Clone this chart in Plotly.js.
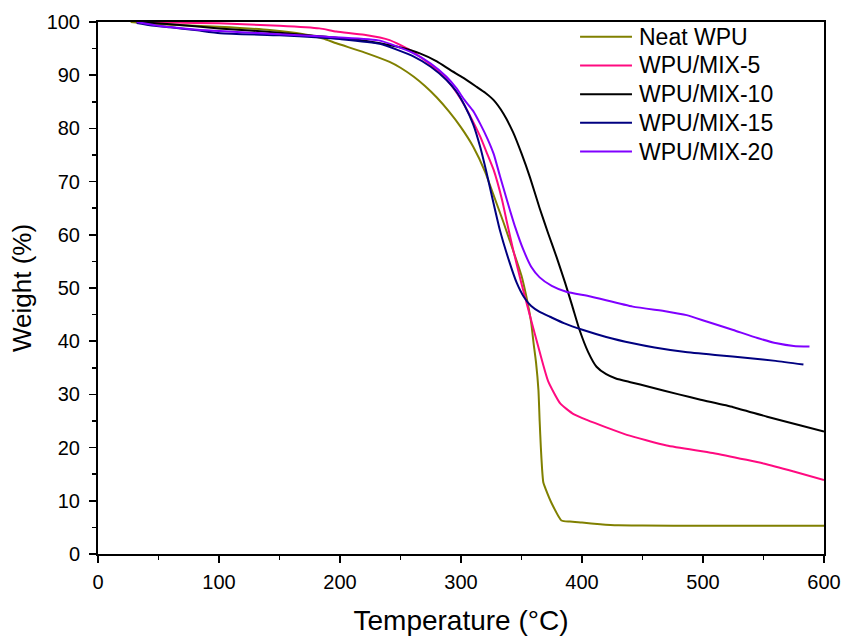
<!DOCTYPE html>
<html>
<head>
<meta charset="utf-8">
<script src="https://cdn.plot.ly/plotly-3.0.1.min.js"></script>
<style>html,body{margin:0;padding:0;background:#fff;}#chart{width:841px;height:636px;}</style>
</head>
<body>
<div id="chart"></div>
<script>
// Neat WPU
const neatT = [27, 50, 100, 142, 170, 186, 197, 220, 241, 250, 261, 270, 280, 290, 300, 310, 320, 327, 335, 343, 350, 354, 358, 360, 362, 364, 365, 366, 367, 368, 370, 375, 383, 390, 400, 415, 430, 450, 500, 550, 600];
const neatW = [100, 99.6, 99.1, 98.5, 97.7, 96.9, 96.0, 94.3, 92.5, 91.4, 89.7, 88.0, 85.8, 83.2, 80.2, 76.6, 71.8, 67.4, 62.4, 57.1, 52.3, 48.4, 43.5, 39.6, 36.0, 30.8, 25.0, 20.0, 16.0, 13.5, 12.2, 9.5, 6.3, 6.1, 5.9, 5.6, 5.4, 5.35, 5.3, 5.3, 5.3];
// WPU/MIX-5
const mix5T = [32, 60, 100, 150, 183, 197, 220, 241, 258, 270, 283, 293, 302, 309, 316, 321, 327, 334, 338, 343, 350, 357, 365, 372, 382, 393, 404, 420, 437, 470, 508, 536, 550, 575, 600];
const mix5W = [100, 99.9, 99.75, 99.3, 98.8, 98.2, 97.6, 96.6, 94.7, 92.8, 90.4, 87.8, 84.7, 81.7, 78.4, 75.6, 72.2, 66.5, 62.3, 57.3, 50.8, 44.8, 38.0, 32.5, 28.3, 26.3, 25.2, 23.8, 22.4, 20.4, 19.0, 17.7, 17.0, 15.5, 13.9];
// WPU/MIX-10
const mix10T = [32, 60, 100, 150, 183, 210, 233, 250, 266, 280, 291, 302, 313, 320, 327, 335, 343, 350, 357, 365, 372, 379, 386, 392, 398, 405, 412, 420, 428, 440, 456, 480, 498, 525, 553, 580, 600];
const mix10W = [100, 99.6, 98.8, 98.0, 97.3, 96.8, 96.0, 95.2, 94.1, 92.6, 91.0, 89.5, 87.8, 86.7, 85.3, 82.8, 79.3, 75.3, 70.8, 65.0, 60.3, 55.8, 51.0, 46.6, 42.1, 38.0, 35.2, 33.8, 33.0, 32.3, 31.4, 30.0, 29.0, 27.6, 25.8, 24.2, 23.0];
// WPU/MIX-15
const mix15T = [32, 43, 60, 80, 101, 150, 183, 200, 233, 261, 275, 288, 296, 303, 310, 316, 321, 325, 332, 340, 346, 352, 358, 365, 373.5, 385, 401, 420, 442, 460, 484, 510, 539, 560, 583];
const mix15W = [99.8, 99.4, 99.0, 98.5, 97.9, 97.5, 97.1, 96.8, 95.9, 93.5, 91.6, 89.1, 87.0, 84.3, 80.8, 76.4, 71.8, 67.8, 61.0, 54.9, 51.0, 48.3, 46.6, 45.5, 44.6, 43.4, 42.1, 40.8, 39.6, 38.8, 38.0, 37.4, 36.8, 36.3, 35.6];
// WPU/MIX-20
const mix20T = [32, 50, 80, 101, 150, 183, 200, 233, 260, 275, 288, 296, 303, 310, 316, 322, 327, 332, 338, 345, 351.5, 358, 365, 375, 387, 407, 442, 470, 486.5, 503, 525, 545, 561, 575, 588];
const mix20W = [100, 99.3, 98.6, 98.3, 97.7, 97.3, 97.1, 96.5, 94.2, 92.2, 89.7, 87.6, 85.3, 83.3, 80.8, 78.0, 75.2, 71.2, 66.5, 61.3, 57.2, 54.0, 52.0, 50.4, 49.3, 48.4, 46.5, 45.6, 44.9, 43.7, 42.1, 40.6, 39.6, 39.1, 39.0];

const seriesNames = ["Neat WPU", "WPU/MIX-5", "WPU/MIX-10", "WPU/MIX-15", "WPU/MIX-20"];
const seriesColors = ["#808000", "#FF0A80", "#000000", "#000080", "#8000FF"];
const xs = [neatT, mix5T, mix10T, mix15T, mix20T];
const ys = [neatW, mix5W, mix10W, mix15W, mix20W];

const xTicks = [0, 100, 200, 300, 400, 500, 600];
const yTicks = [0, 10, 20, 30, 40, 50, 60, 70, 80, 90, 100];

const traces = seriesNames.map((n, i) => ({
  x: xs[i], y: ys[i], name: n, type: "scatter", mode: "lines",
  line: {color: seriesColors[i], width: 2, shape: "spline", smoothing: 0.5}
}));

const font = "Liberation Sans, Arial, sans-serif";

// legend drawn as shapes + annotations in paper coordinates
const legX0 = 0.664, legX1 = 0.7355, legTextX = 0.743, legY0 = 0.9724, legDy = 0.054;
const legendShapes = seriesNames.map((n, i) => ({
  type: "line", xref: "paper", yref: "paper",
  x0: legX0, x1: legX1, y0: legY0 - i * legDy, y1: legY0 - i * legDy,
  line: {color: seriesColors[i], width: 2}
}));
const legendAnnots = seriesNames.map((n, i) => ({
  xref: "paper", yref: "paper", x: legTextX, y: legY0 - i * legDy,
  xanchor: "left", yanchor: "middle", showarrow: false, text: n,
  font: {size: 23, family: font, color: "#000"}
}));

const layout = {
  width: 841, height: 636,
  margin: {l: 98, r: 17, t: 22, b: 82},
  paper_bgcolor: "#fff", plot_bgcolor: "#fff",
  font: {family: font, color: "#000"},
  showlegend: false,
  shapes: legendShapes,
  annotations: legendAnnots,
  xaxis: {
    range: [0, 600], tickvals: xTicks, ticktext: xTicks.map(String),
    ticks: "outside", ticklen: 7, tickwidth: 1.5, tickcolor: "#000",
    minor: {dtick: 50, ticks: "outside", ticklen: 4, tickwidth: 1.5, tickcolor: "#000"},
    showline: true, linecolor: "#000", linewidth: 2, mirror: true,
    showgrid: false, zeroline: false, ticklabelstandoff: 2,
    tickfont: {size: 20, family: font},
    title: {text: "Temperature (°C)", font: {size: 28, family: font}, standoff: 18}
  },
  yaxis: {
    range: [0, 100], tickvals: yTicks, ticktext: yTicks.map(String),
    ticks: "outside", ticklen: 7, tickwidth: 1.5, tickcolor: "#000",
    minor: {dtick: 5, ticks: "outside", ticklen: 4, tickwidth: 1.5, tickcolor: "#000"},
    showline: true, linecolor: "#000", linewidth: 2, mirror: true,
    showgrid: false, zeroline: false, ticklabelstandoff: 5,
    tickfont: {size: 20, family: font},
    title: {text: "Weight (%)", font: {size: 26, family: font}, standoff: 8}
  }
};

Plotly.newPlot("chart", traces, layout, {displayModeBar: false, staticPlot: true});
</script>
</body>
</html>
